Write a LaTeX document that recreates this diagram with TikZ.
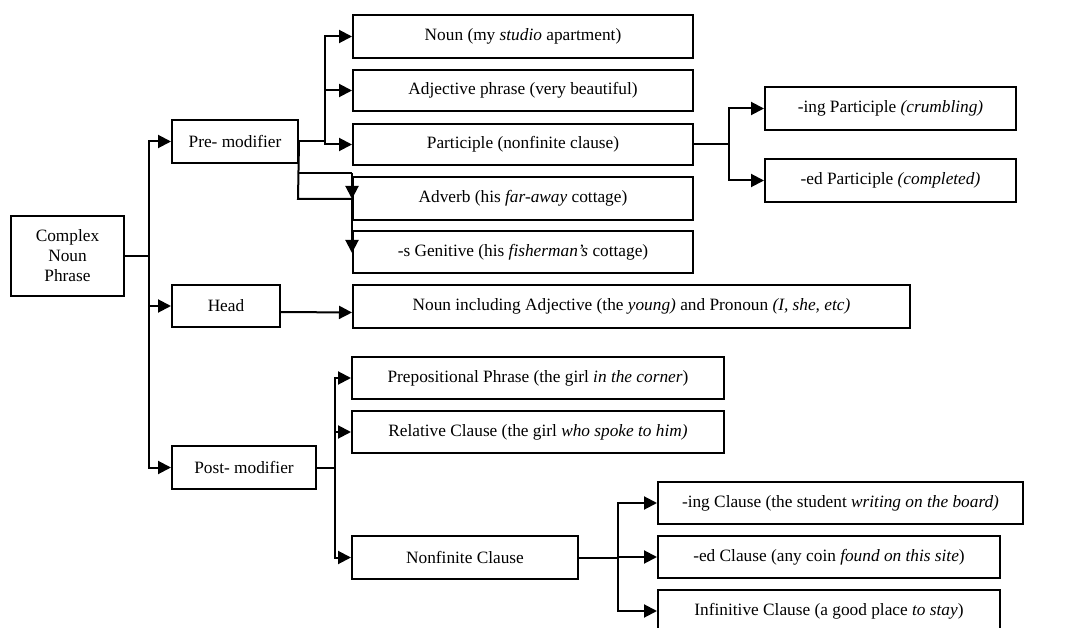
\documentclass[tikz,border=0pt]{standalone}
\usepackage{fontspec}
\setmainfont{Liberation Serif}
\usetikzlibrary{arrows.meta}
\begin{document}
\begin{tikzpicture}[x=1pt,y=-1pt,
  box/.style={draw,line width=2pt,inner sep=0pt,align=center,font=\fontsize{17.3}{20}\selectfont},
  conn/.style={line width=2pt},
  arr/.style={line width=2pt,-{Triangle[length=13pt,width=13pt]}}]
\useasboundingbox (0,0) rectangle (1077,628);
% boxes
\node[box,minimum width=113pt,minimum height=80pt] (cnp) at (67.5,256) {Complex\\Noun\\Phrase};
\node[box,minimum width=126pt,minimum height=43pt] (pre) at (235,141.5) {Pre- modifier};
\node[box,minimum width=108pt,minimum height=42pt] (head) at (226,306) {Head};
\node[box,minimum width=144pt,minimum height=43pt] (post) at (244,467.5) {Post- modifier};
\node[box,minimum width=340pt,minimum height=43pt] (noun) at (523,36.5) {Noun (my \textit{studio} apartment)};
\node[box,minimum width=340pt,minimum height=41pt] (adj) at (523,90.5) {Adjective phrase (very beautiful)};
\node[box,minimum width=340pt,minimum height=41pt] (part) at (523,144.5) {Participle (nonfinite clause)};
\node[box,minimum width=340pt,minimum height=43pt] (adv) at (523,198.5) {Adverb (his \textit{far-away} cottage)};
\node[box,minimum width=340pt,minimum height=42pt] (gen) at (523,252) {-s Genitive (his \textit{fisherman's} cottage)};
\node[box,minimum width=251pt,minimum height=43pt] (ing) at (890.5,108.5) {-ing Participle \textit{(crumbling)}};
\node[box,minimum width=251pt,minimum height=43pt] (ed) at (890.5,180.5) {-ed Participle \textit{(completed)}};
\node[box,minimum width=557pt,minimum height=43pt] (headn) at (631.5,306.5) {Noun including Adjective (the \textit{young)} and Pronoun \textit{(I, she, etc)}};
\node[box,minimum width=372pt,minimum height=42pt] (prep) at (538,378) {Prepositional Phrase (the girl \textit{in the corner})};
\node[box,minimum width=372pt,minimum height=42pt] (rel) at (538,432) {Relative Clause (the girl \textit{who spoke to him)}};
\node[box,minimum width=226pt,minimum height=43pt] (nonf) at (465,557.5) {Nonfinite Clause};
\node[box,minimum width=365pt,minimum height=42pt] (ingc) at (840.5,503) {-ing Clause (the student \textit{writing on the board)}};
\node[box,minimum width=342pt,minimum height=42pt] (edc) at (829,557) {-ed Clause (any coin \textit{found on this site})};
\node[box,minimum width=342pt,minimum height=42pt] (inf) at (829,611) {Infinitive Clause (a good place \textit{to stay})};
% main trunk
\draw[arr] (cnp.east) -- ++(24,0) |- (pre.west);
\draw[arr] (cnp.east) -- ++(24,0) |- (head.west);
\draw[arr] (cnp.east) -- ++(24,0) |- (post.west);
% pre-modifier
\draw[arr] (pre.east) -- ++(26,0) |- (noun.west);
\draw[arr] (pre.east) -- ++(26,0) |- (adj.west);
\draw[arr] (pre.east) -- ++(26,0) |- (part.west);
\coordinate (k1) at (298,173);
\coordinate (k2) at (352,173);
\coordinate (k3) at (298,199);
\coordinate (k4) at (352,199);
\coordinate (k5) at (352,253);
\draw[conn] (pre.east) -- (k3) -- (k4);
\draw[conn] (k1) -- (k2);
\draw[arr] (k2) -- (k4);
\draw[arr] (k4) -- (k5);
% participle
\draw[arr] (part.east) -- ++(35,0) |- (ing.west);
\draw[arr] (part.east) -- ++(35,0) |- (ed.west);
% head
\draw[arr] ([yshift=-6pt]head.east) -- ([yshift=-6pt]headn.west);
% post-modifier
\draw[arr] (post.east) -- ++(18,0) |- (prep.west);
\draw[arr] (post.east) -- ++(18,0) |- (rel.west);
\draw[arr] (post.east) -- ++(18,0) |- (nonf.west);
% nonfinite
\draw[arr] (nonf.east) -- ++(39,0) |- (ingc.west);
\draw[arr] (nonf.east) -- ++(39,0) |- (edc.west);
\draw[arr] (nonf.east) -- ++(39,0) |- (inf.west);
\end{tikzpicture}
\end{document}
